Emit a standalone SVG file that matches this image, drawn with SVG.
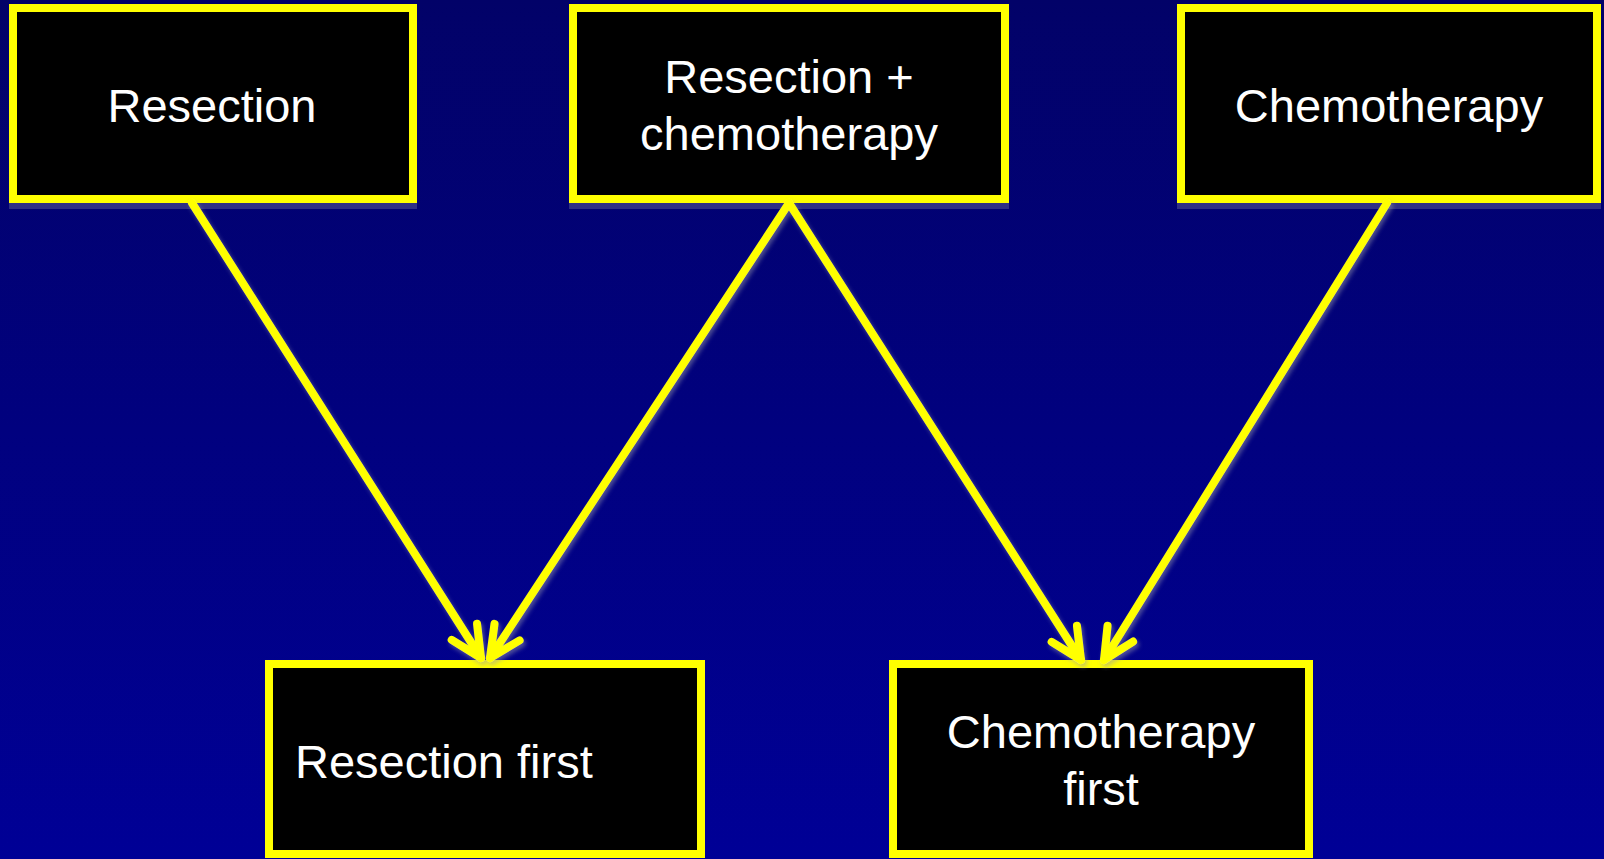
<svg xmlns="http://www.w3.org/2000/svg" width="1604" height="859" viewBox="0 0 1604 859">
  <defs>
    <linearGradient id="bg" x1="0" y1="0" x2="0" y2="1">
      <stop offset="0" stop-color="#020268"/>
      <stop offset="1" stop-color="#000096"/>
    </linearGradient>
    <marker id="arrow" markerUnits="userSpaceOnUse" markerWidth="60" markerHeight="60" refX="0" refY="0" viewBox="-40 -30 50 60" orient="auto" overflow="visible">
      <path d="M -31,-15 L 0,0 L -31,15" fill="none" stroke="#FFFF00" stroke-width="8" stroke-linecap="round" stroke-linejoin="round"/>
    </marker>
    <filter id="glow" x="-10%" y="-10%" width="120%" height="120%">
      <feDropShadow dx="2" dy="3" stdDeviation="2" flood-color="#9999aa" flood-opacity="0.5"/>
    </filter>
    <style>
      .box { fill: #000000; stroke: #FFFF00; stroke-width: 8; }
      .shadow { fill: #8888aa; opacity: 0.35; }
      .label { font-family: "Liberation Sans", Arial, sans-serif; font-size: 47px; fill: #FFFFFF; }
      .conn { stroke: #FFFF00; stroke-width: 8; stroke-linecap: round; fill: none; marker-end: url(#arrow); }
    </style>
  </defs>
  <rect x="0" y="0" width="1604" height="859" fill="url(#bg)"/>

  <g id="node-resection">
    <rect class="shadow" x="9" y="10" width="408" height="199"/>
    <rect class="box" x="13" y="8" width="400" height="191"/>
    <text class="label" x="212" y="122" text-anchor="middle">Resection</text>
  </g>

  <g id="node-resection-chemo">
    <rect class="shadow" x="569" y="10" width="440" height="199"/>
    <rect class="box" x="573" y="8" width="432" height="191"/>
    <text class="label" x="789" y="93" text-anchor="middle">Resection +</text>
    <text class="label" x="789" y="150" text-anchor="middle">chemotherapy</text>
  </g>

  <g id="node-chemotherapy">
    <rect class="shadow" x="1177" y="10" width="424" height="199"/>
    <rect class="box" x="1181" y="8" width="416" height="191"/>
    <text class="label" x="1389" y="122" text-anchor="middle">Chemotherapy</text>
  </g>

  <g id="node-resection-first">
    <rect class="box" x="269" y="664" width="432" height="190"/>
    <text class="label" x="295" y="778">Resection first</text>
  </g>

  <g id="node-chemo-first">
    <rect class="box" x="893" y="664" width="416" height="190"/>
    <text class="label" x="1101" y="748" text-anchor="middle">Chemotherapy</text>
    <text class="label" x="1101" y="805" text-anchor="middle">first</text>
  </g>

  <g id="connectors" filter="url(#glow)">
    <line class="conn" x1="192" y1="203" x2="481" y2="658"/>
    <line class="conn" x1="789" y1="203" x2="490" y2="658"/>
    <line class="conn" x1="789" y1="203" x2="1081" y2="660"/>
    <line class="conn" x1="1387" y1="203" x2="1104" y2="660"/>
  </g>
</svg>
